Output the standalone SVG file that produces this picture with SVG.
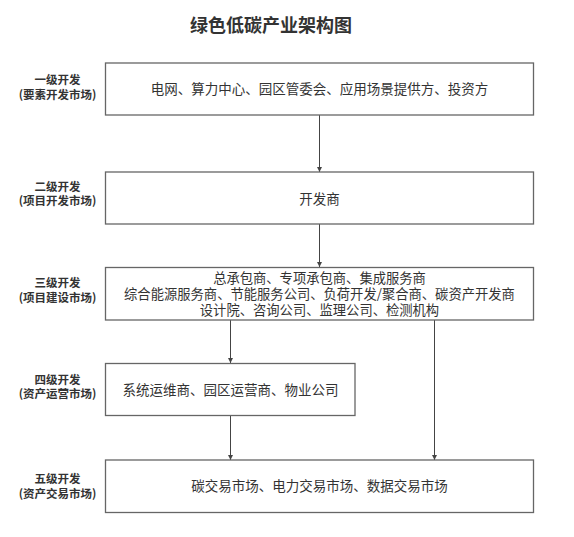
<svg xmlns="http://www.w3.org/2000/svg" width="574" height="537" viewBox="0 0 574 537">
<defs>
<marker id="ah" markerWidth="6" markerHeight="6" refX="5" refY="3" orient="auto" markerUnits="userSpaceOnUse">
<path d="M0,0.5 L5,3 L0,5.5 Z" fill="#444"/>
</marker>
<style>
.box{fill:#fff;stroke:#666;stroke-width:1.3}
.t{font-family:"Noto Sans CJK SC","Noto Sans",sans-serif;font-size:13.5px;fill:#333;text-anchor:middle}
.t3{font-size:13.3px}
.lbl{font-family:"Noto Sans CJK SC","Noto Sans",sans-serif;font-size:11.5px;font-weight:bold;fill:#333;text-anchor:middle}
.title{font-family:"Noto Sans CJK SC","Noto Sans",sans-serif;font-size:18px;font-weight:bold;fill:#333;text-anchor:middle}
.c{stroke:#444;stroke-width:1;fill:none;marker-end:url(#ah)}
</style>
</defs>
<rect width="574" height="537" fill="#fff"/>
<text class="title" x="271" y="31.5">绿色低碳产业架构图</text>

<g id="labels">
<text class="lbl" x="57.5" y="84">一级开发</text>
<text class="lbl" x="57.5" y="99">(要素开发市场)</text>
<text class="lbl" x="57.5" y="190.5">二级开发</text>
<text class="lbl" x="57.5" y="205">(项目开发市场)</text>
<text class="lbl" x="57.5" y="287">三级开发</text>
<text class="lbl" x="57.5" y="301.5">(项目建设市场)</text>
<text class="lbl" x="57.5" y="384">四级开发</text>
<text class="lbl" x="57.5" y="398">(资产运营市场)</text>
<text class="lbl" x="57.5" y="483">五级开发</text>
<text class="lbl" x="57.5" y="497.5">(资产交易市场)</text>
</g>

<g id="connectors">
<line class="c" x1="319.5" y1="115" x2="319.5" y2="172"/>
<line class="c" x1="319.5" y1="224" x2="319.5" y2="267"/>
<line class="c" x1="230.5" y1="320" x2="230.5" y2="363"/>
<line class="c" x1="230.5" y1="415" x2="230.5" y2="460"/>
<line class="c" x1="434.5" y1="320" x2="434.5" y2="460"/>
</g>

<g id="n1">
<rect class="box" x="105.5" y="63" width="428" height="52"/>
<text class="t" x="319.5" y="94">电网、算力中心、园区管委会、应用场景提供方、投资方</text>
</g>
<g id="n2">
<rect class="box" x="105.5" y="172" width="428" height="52"/>
<text class="t" x="319.5" y="203.5">开发商</text>
</g>
<g id="n3">
<rect class="box" x="105.5" y="267.5" width="428" height="52.5"/>
<text class="t t3" x="319.5" y="282.5">总承包商、专项承包商、集成服务商</text>
<text class="t t3" x="319.5" y="299">综合能源服务商、节能服务公司、负荷开发/聚合商、碳资产开发商</text>
<text class="t t3" x="319.5" y="315.3">设计院、咨询公司、监理公司、检测机构</text>
</g>
<g id="n4">
<rect class="box" x="105.5" y="363.5" width="249.5" height="52"/>
<text class="t" x="230.5" y="395">系统运维商、园区运营商、物业公司</text>
</g>
<g id="n5">
<rect class="box" x="105.5" y="460" width="428" height="52.5"/>
<text class="t" x="319.5" y="491">碳交易市场、电力交易市场、数据交易市场</text>
</g>
</svg>
